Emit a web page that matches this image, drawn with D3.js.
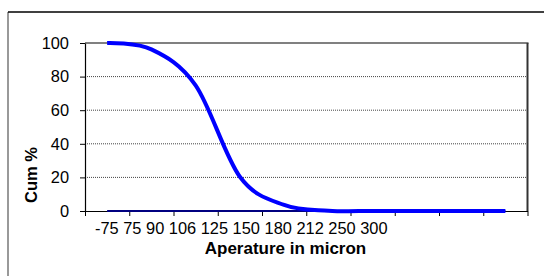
<!DOCTYPE html>
<html>
<head>
<meta charset="utf-8">
<script src="https://cdn.jsdelivr.net/npm/d3@7"></script>
<style>
  body { margin: 0; background: #fff; }
  svg { display: block; font-family: Arial, "Liberation Sans", sans-serif; }
</style>
</head>
<body>
<div id="chart"></div>
<script>
// Chart data
var categories = ["-75", "75", "90", "106", "125", "150", "180", "212", "250", "300"];
var cumPercent = [100, 96.2, 74.8, 20.4, 3.6, 0.2, 0, 0, 0, 0];
var baseSeries = [0, 0, 0, 0, 0, 0, 0, 0, 0, 0];
var yTicks = [0, 20, 40, 60, 80, 100];

function drawChart() {
    var W = 544, H = 276;
    var left = 85, right = 527.5, top = 43, bottom = 211;

    var svg = d3.select("#chart").append("svg")
        .attr("width", W)
        .attr("height", H);

    // outer chart border (only left and top are visible)
    svg.append("line").attr("x1", 8).attr("y1", 12).attr("x2", 8).attr("y2", H)
        .attr("stroke", "#777").attr("stroke-width", 1.5);
    svg.append("line").attr("x1", 8).attr("y1", 12).attr("x2", W).attr("y2", 12)
        .attr("stroke", "#000").attr("stroke-width", 1.5);

    // scales: edges of category slots, and value axis
    var xEdge = d3.scaleLinear().domain([0, categories.length]).range([left, right]);
    var y = d3.scaleLinear().domain([0, 100]).range([bottom, top]);

    // gridlines
    svg.append("g").selectAll("line")
        .data(yTicks.filter(function(d) { return d > 0 && d < 100; }))
        .enter().append("line")
        .attr("x1", left).attr("x2", right)
        .attr("y1", function(d) { return y(d); })
        .attr("y2", function(d) { return y(d); })
        .attr("stroke", "#444")
        .attr("stroke-width", 1)
        .attr("stroke-dasharray", "1,1");

    // plot area frame: top grey, right dark
    svg.append("line").attr("x1", left).attr("x2", right + 1).attr("y1", y(100)).attr("y2", y(100))
        .attr("stroke", "#808080").attr("stroke-width", 2);
    svg.append("line").attr("x1", right).attr("x2", right).attr("y1", y(100)).attr("y2", bottom)
        .attr("stroke", "#333").attr("stroke-width", 2);

    // y axis
    var yAxis = svg.append("g")
        .attr("transform", "translate(" + left + ",0)")
        .call(d3.axisLeft(y).tickValues(yTicks).tickSize(5).tickSizeOuter(0).tickPadding(11));
    yAxis.select(".domain").attr("stroke", "#000").attr("stroke-width", 1.2);
    yAxis.selectAll(".tick line").attr("stroke", "#000");
    yAxis.selectAll("text").attr("font-size", "16.4px").attr("fill", "#000")
        .attr("font-family", "Arial, 'Liberation Sans', sans-serif");

    // x axis with ticks between categories
    var xAxis = svg.append("g")
        .attr("transform", "translate(0," + bottom + ")")
        .call(d3.axisBottom(xEdge).ticks(categories.length).tickSize(5).tickSizeOuter(0).tickFormat(""));
    xAxis.select(".domain").attr("stroke", "#000").attr("stroke-width", 1.2);
    xAxis.selectAll(".tick line").attr("stroke", "#000");

    // category labels as written in the source (one run of text)
    svg.append("text")
        .attr("x", 95)
        .attr("y", 234)
        .attr("font-size", "16.4px")
        .text(categories.join(" "));

    var xc = function(i) { return xEdge(i + 0.5); };

    // base series along zero
    var flatLine = d3.line()
        .x(function(d, i) { return xc(i); })
        .y(function(d) { return y(d); });
    svg.append("path")
        .datum(baseSeries)
        .attr("fill", "none")
        .attr("stroke", "#000080")
        .attr("stroke-width", 2)
        .attr("d", flatLine);

    // smoothed cumulative curve
    var smoothLine = d3.line()
        .x(function(d, i) { return xc(i); })
        .y(function(d) { return y(d); })
        .curve(d3.curveCardinal.tension(0));
    svg.append("path")
        .datum(cumPercent)
        .attr("fill", "none")
        .attr("stroke", "#0000ff")
        .attr("stroke-width", 4)
        .attr("d", smoothLine);

    // axis titles
    svg.append("text")
        .attr("x", 285.5)
        .attr("y", 254)
        .attr("text-anchor", "middle")
        .attr("font-size", "17px")
        .attr("font-weight", "bold")
        .text("Aperature in micron");

    svg.append("text")
        .attr("transform", "translate(37,175) rotate(-90)")
        .attr("text-anchor", "middle")
        .attr("font-size", "16.5px")
        .attr("font-weight", "bold")
        .text("Cum %");
}

window.onload = drawChart;
</script>
</body>
</html>
